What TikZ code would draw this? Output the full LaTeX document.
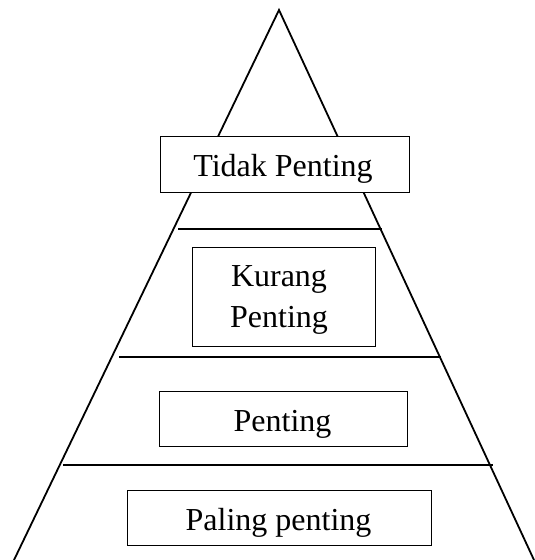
\documentclass[tikz,border=0pt]{standalone}
\usepackage{fontspec}
\setmainfont{Liberation Serif}
\begin{document}
\begin{tikzpicture}[x=1pt,y=-1pt,
  edge/.style={line width=1.8pt},
  sepline/.style={line width=1.6pt},
  boxnode/.style={draw, line width=0.8pt, inner sep=0pt},
  txt/.style={font=\fontsize{32}{41}\selectfont, inner sep=0pt, anchor=base}]
\useasboundingbox (0,0) rectangle (535,560);
\coordinate (apex) at (279,10);
\coordinate (bl) at (14,560);
\coordinate (br) at (534,560);
\draw[edge] (bl) -- (apex) -- (br);
% separators
\coordinate (s1a) at (178,229); \coordinate (s1b) at (382,229);
\coordinate (s2a) at (119,357); \coordinate (s2b) at (441,357);
\coordinate (s3a) at (63,465);  \coordinate (s3b) at (493,465);
\draw[sepline] (s1a) -- (s1b);
\draw[sepline] (s2a) -- (s2b);
\draw[sepline] (s3a) -- (s3b);
% boxes
\node[boxnode, fill=white, minimum width=249pt, minimum height=56pt] (b1) at (284.5,164) {};
\node[boxnode, minimum width=183pt, minimum height=99pt] (b2) at (283.5,296.5) {};
\node[boxnode, minimum width=248pt, minimum height=55pt] (b3) at (283,418.5) {};
\node[boxnode, minimum width=304pt, minimum height=55pt] (b4) at (279,517.5) {};
% texts
\node[txt] (t1) at (283,176) {Tidak Penting};
\node[txt] (t2a) at (279,286) {Kurang};
\node[txt] (t2b) at (279,327) {Penting};
\node[txt] (t3) at (282.5,431) {Penting};
\node[txt] (t4) at (278.5,530) {Paling penting};
\end{tikzpicture}
\end{document}
